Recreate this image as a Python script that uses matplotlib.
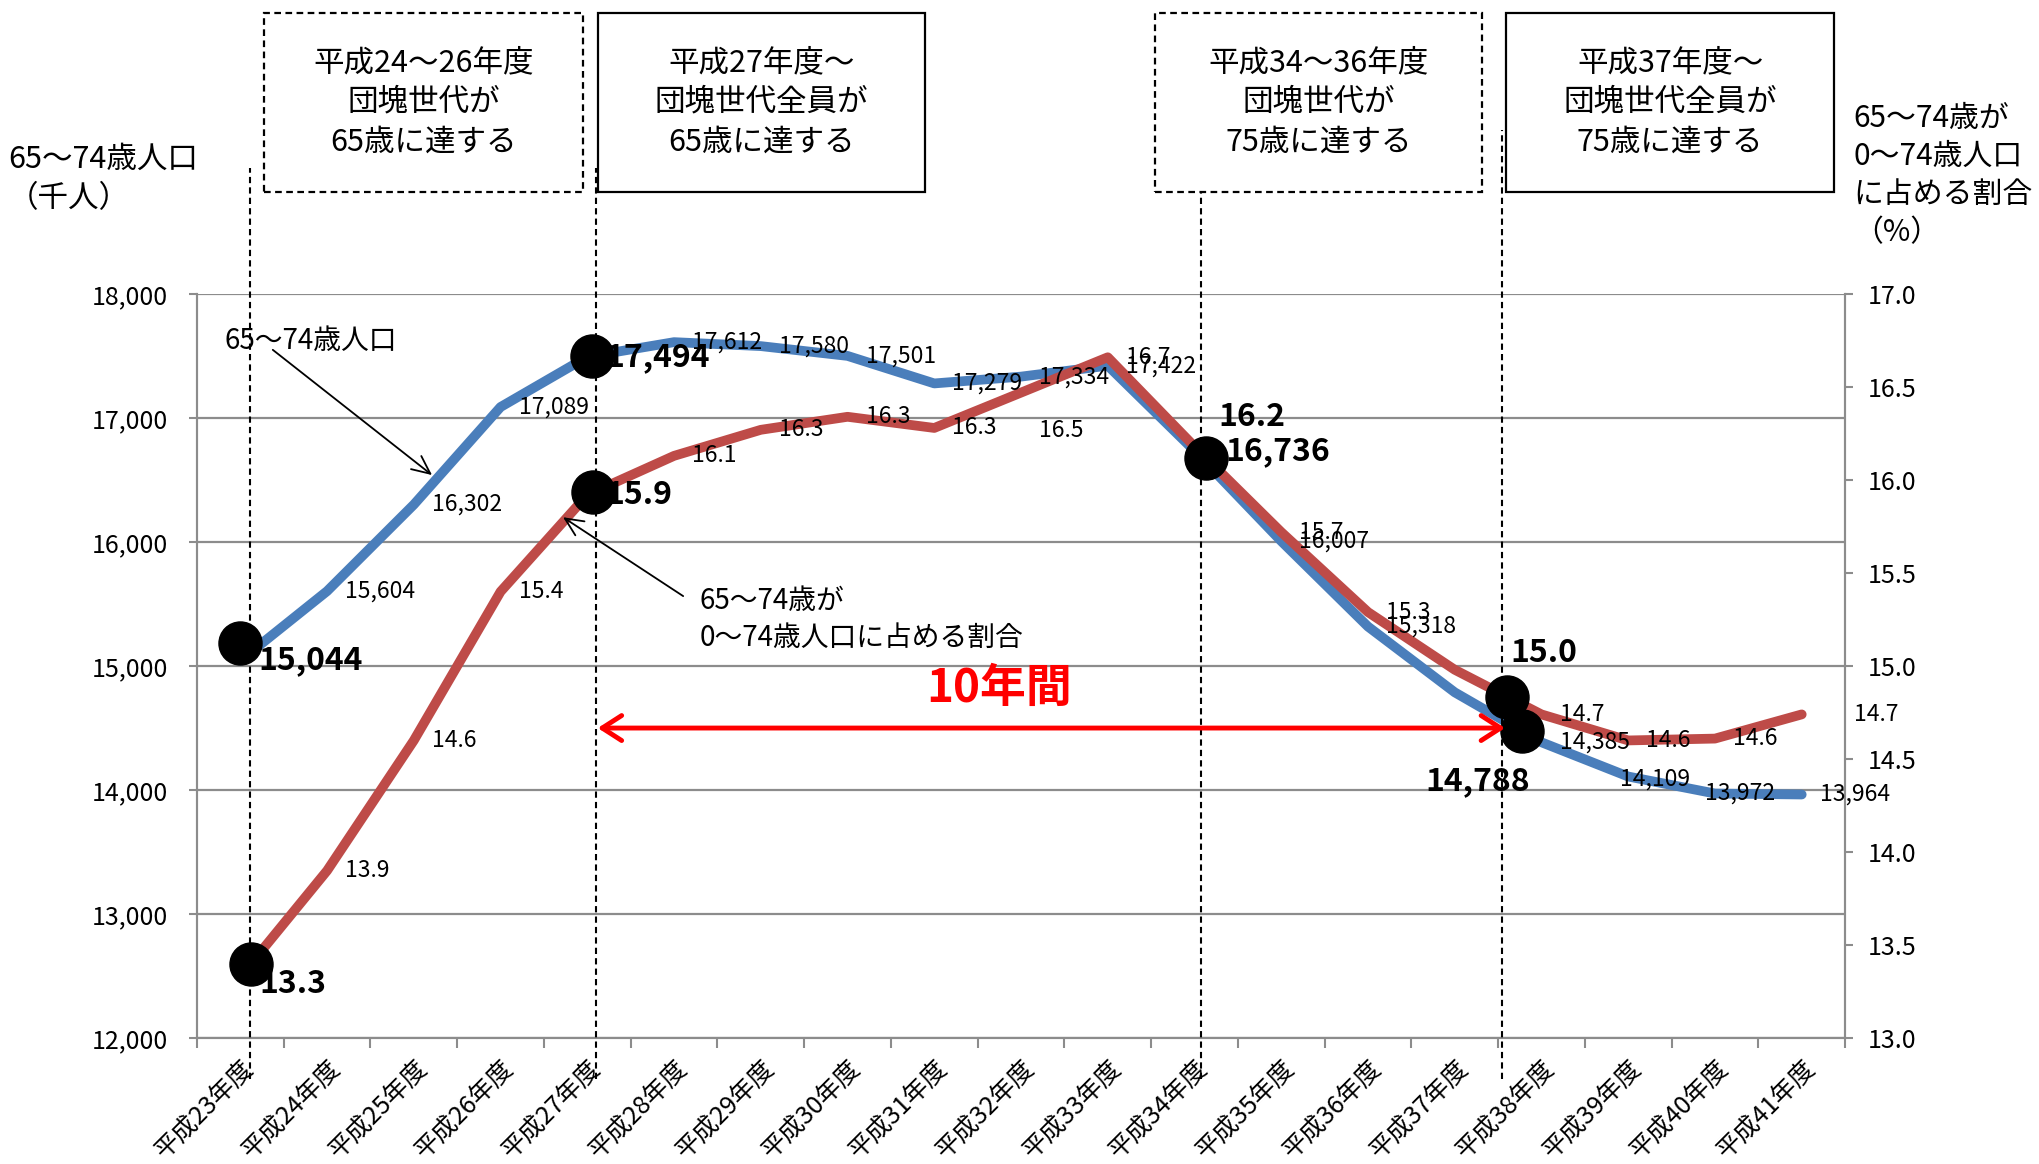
import numpy as np
import matplotlib
matplotlib.use('Agg')
import matplotlib.pyplot as plt
from matplotlib.patches import Rectangle
from matplotlib.transforms import blended_transform_factory, offset_copy

plt.rcParams['font.family'] = ['Noto Sans CJK JP', 'DejaVu Sans']

# data
years = ['平成23年度', '平成24年度', '平成25年度', '平成26年度', '平成27年度',
         '平成28年度', '平成29年度', '平成30年度', '平成31年度', '平成32年度',
         '平成33年度', '平成34年度', '平成35年度', '平成36年度', '平成37年度',
         '平成38年度', '平成39年度', '平成40年度', '平成41年度']
pop = [15044, 15604, 16302, 17089, 17494, 17612, 17580, 17501, 17279, 17334,
       17422, 16736, 16007, 15318, 14788, 14385, 14109, 13972, 13964]
share = [13.33, 13.90, 14.60, 15.40, 15.92, 16.13, 16.27, 16.34, 16.28, 16.47,
         16.66, 16.18, 15.72, 15.29, 14.98, 14.74, 14.60, 14.61, 14.74]

boxes = ['平成24～26年度\n団塊世代が\n65歳に達する',
         '平成27年度～\n団塊世代全員が\n65歳に達する',
         '平成34～36年度\n団塊世代が\n75歳に達する',
         '平成37年度～\n団塊世代全員が\n75歳に達する']

BLUE = '#4A7EBB'
RED = '#BE4B48'
GRID = '#8c8c8c'

x = np.arange(len(years))

fig = plt.figure(figsize=(20.39, 11.64), dpi=100)
ax = fig.add_axes([0.0966, 0.1082, 0.8083, 0.6392])
ax2 = ax.twinx()

ax.set_xlim(-0.5, len(years) - 0.5)
ax.set_ylim(12000, 18000)
ax2.set_ylim(13.0, 17.0)
ax.set_yticks(np.arange(12000, 18001, 1000))
ax2.set_yticks(np.arange(13.0, 17.01, 0.5))
ax.set_yticklabels(['{:,}'.format(v) for v in range(12000, 18001, 1000)], fontsize=18)
ax2.set_yticklabels(['{:.1f}'.format(v) for v in np.arange(13.0, 17.01, 0.5)], fontsize=18)
ax.grid(axis='y', color=GRID, lw=1.6)
ax.set_axisbelow(True)

ax.set_xticks(x)
ax.set_xticklabels(years, rotation=45, ha='right', va='top', rotation_mode='anchor', fontsize=18)
ax.set_xticks(np.arange(-0.5, len(years), 1), minor=True)
ax.tick_params(axis='x', which='major', length=0, pad=12)
ax.tick_params(axis='x', which='minor', length=7, width=1.5, color=GRID, direction='out')
ax.tick_params(axis='y', length=6, width=1.5, color=GRID, pad=15)
ax2.tick_params(axis='y', length=6, width=1.5, color=GRID, pad=10)
for a in (ax, ax2):
    for s in a.spines.values():
        s.set_color(GRID)
        s.set_linewidth(1.5)
    a.spines['top'].set_visible(False)

ax.plot(x, pop, color=BLUE, lw=7, solid_capstyle='round', zorder=3)
ax2.plot(x, share, color=RED, lw=7, solid_capstyle='round', zorder=3)

# data labels
def labels(axis, vals, fmt, bold, overrides):
    for i, v in enumerate(vals):
        dx, dy, ha = overrides.get(i, (13, 0, 'left'))
        b = i in bold
        ax2.annotate(fmt(v), xy=(i, v), xycoords=axis.transData,
                     xytext=(dx, dy), textcoords='offset points',
                     ha=ha, va='center', fontsize=23 if b else 16.5,
                     fontweight='bold' if b else 'normal', zorder=6)

bold_idx = {0, 4, 11, 14}
labels(ax, pop, lambda v: '{:,}'.format(v), bold_idx,
       {11: (22, 0, 'left'), 14: (54, -64, 'right'),
        16: (-6, -2, 'left'), 17: (-7, 0, 'left')})
labels(ax2, share, lambda v: '{:.1f}'.format(v), bold_idx,
       {0: (14, -5, 'left'), 9: (13, -27, 'left'), 11: (17, 21, 'left'),
        14: (40, 12, 'left'), 18: (38, 0, 'left')})

# highlight dots on the lines
dot_pop_at = [0.0, 4.05, 14.77]
dot_share_at = [0.12, 4.07, 11.13, 14.6]
for xi in dot_pop_at:
    tr = offset_copy(ax.transData, fig=fig, x=0, y=13 if xi == 0 else 0, units='points')
    ax2.plot([xi], [np.interp(xi, x, pop)], 'o', color='black', ms=31,
             transform=tr, zorder=5, clip_on=False)
for xi in dot_share_at:
    ax2.plot([xi], [np.interp(xi, x, share)], 'o', color='black', ms=31,
             zorder=5, clip_on=False)

# vertical dashed guide lines
vtr = blended_transform_factory(ax.transData, fig.transFigure)
for xv, top in [(0.108, 0.856), (4.096, 0.856), (11.08, 0.835), (14.545, 0.888)]:
    ax2.plot([xv, xv], [0.073, top], transform=vtr, color='black', lw=1.5,
             ls=(0, (3, 2)), clip_on=False, zorder=4)

# boxes at the top
for (x0, w), txt, dashed in zip([(0.1295, 0.1565), (0.2933, 0.1604), (0.5665, 0.1604), (0.7386, 0.1609)],
                                boxes, [True, False, True, False]):
    fig.patches.append(Rectangle((x0, 0.835), w, 0.1537, transform=fig.transFigure,
                                 fill=False, ec='black', lw=1.6,
                                 ls=(0, (3, 2)) if dashed else '-'))
    fig.text(x0 + w / 2, 0.912, txt, ha='center', va='center', fontsize=22, linespacing=1.35)

# axis titles
fig.text(0.004, 0.846, '65～74歳人口\n（千人）', ha='left', va='center', fontsize=22, linespacing=1.35)
fig.text(0.9088, 0.849, '65～74歳が\n0～74歳人口\nに占める割合\n（%）', ha='left', va='center',
         fontsize=21.5, linespacing=1.3)

# callouts
ax2.annotate('65～74歳人口', xy=(2.21, 16540), xycoords=ax.transData,
             xytext=(0.017, 0.937), textcoords='axes fraction', ha='left', va='center',
             fontsize=20, zorder=6)
ax2.annotate('', xy=(2.21, 16540), xycoords=ax.transData,
             xytext=(0.046, 0.925), textcoords='axes fraction',
             arrowprops=dict(arrowstyle='->,head_length=1.3,head_width=0.6', color='black',
                             lw=1.3, mutation_scale=10, shrinkA=0, shrinkB=0), zorder=6)
ax2.text(0.305, 0.562, '65～74歳が\n0～74歳人口に占める割合', transform=ax.transAxes,
         ha='left', va='center', fontsize=20, linespacing=1.3, zorder=6)
ax2.annotate('', xy=(3.72, 15.80), xycoords='data',
             xytext=(0.295, 0.594), textcoords='axes fraction',
             arrowprops=dict(arrowstyle='->,head_length=1.3,head_width=0.6', color='black',
                             lw=1.3, mutation_scale=10, shrinkA=0, shrinkB=0), zorder=6)

# 10-year span
ax2.annotate('', xy=(4.12, 14500), xycoords=ax.transData,
             xytext=(14.58, 14500), textcoords=ax.transData,
             arrowprops=dict(arrowstyle='<->,head_length=0.7,head_width=0.45', color='red',
                             lw=3.5, mutation_scale=20, shrinkA=0, shrinkB=0), zorder=6)
ax2.text(0.4866, 0.469, '10年間', transform=ax.transAxes, ha='center', va='center',
         fontsize=33, fontweight='bold', color='red', zorder=6)

fig.savefig('out.png', dpi=100)
